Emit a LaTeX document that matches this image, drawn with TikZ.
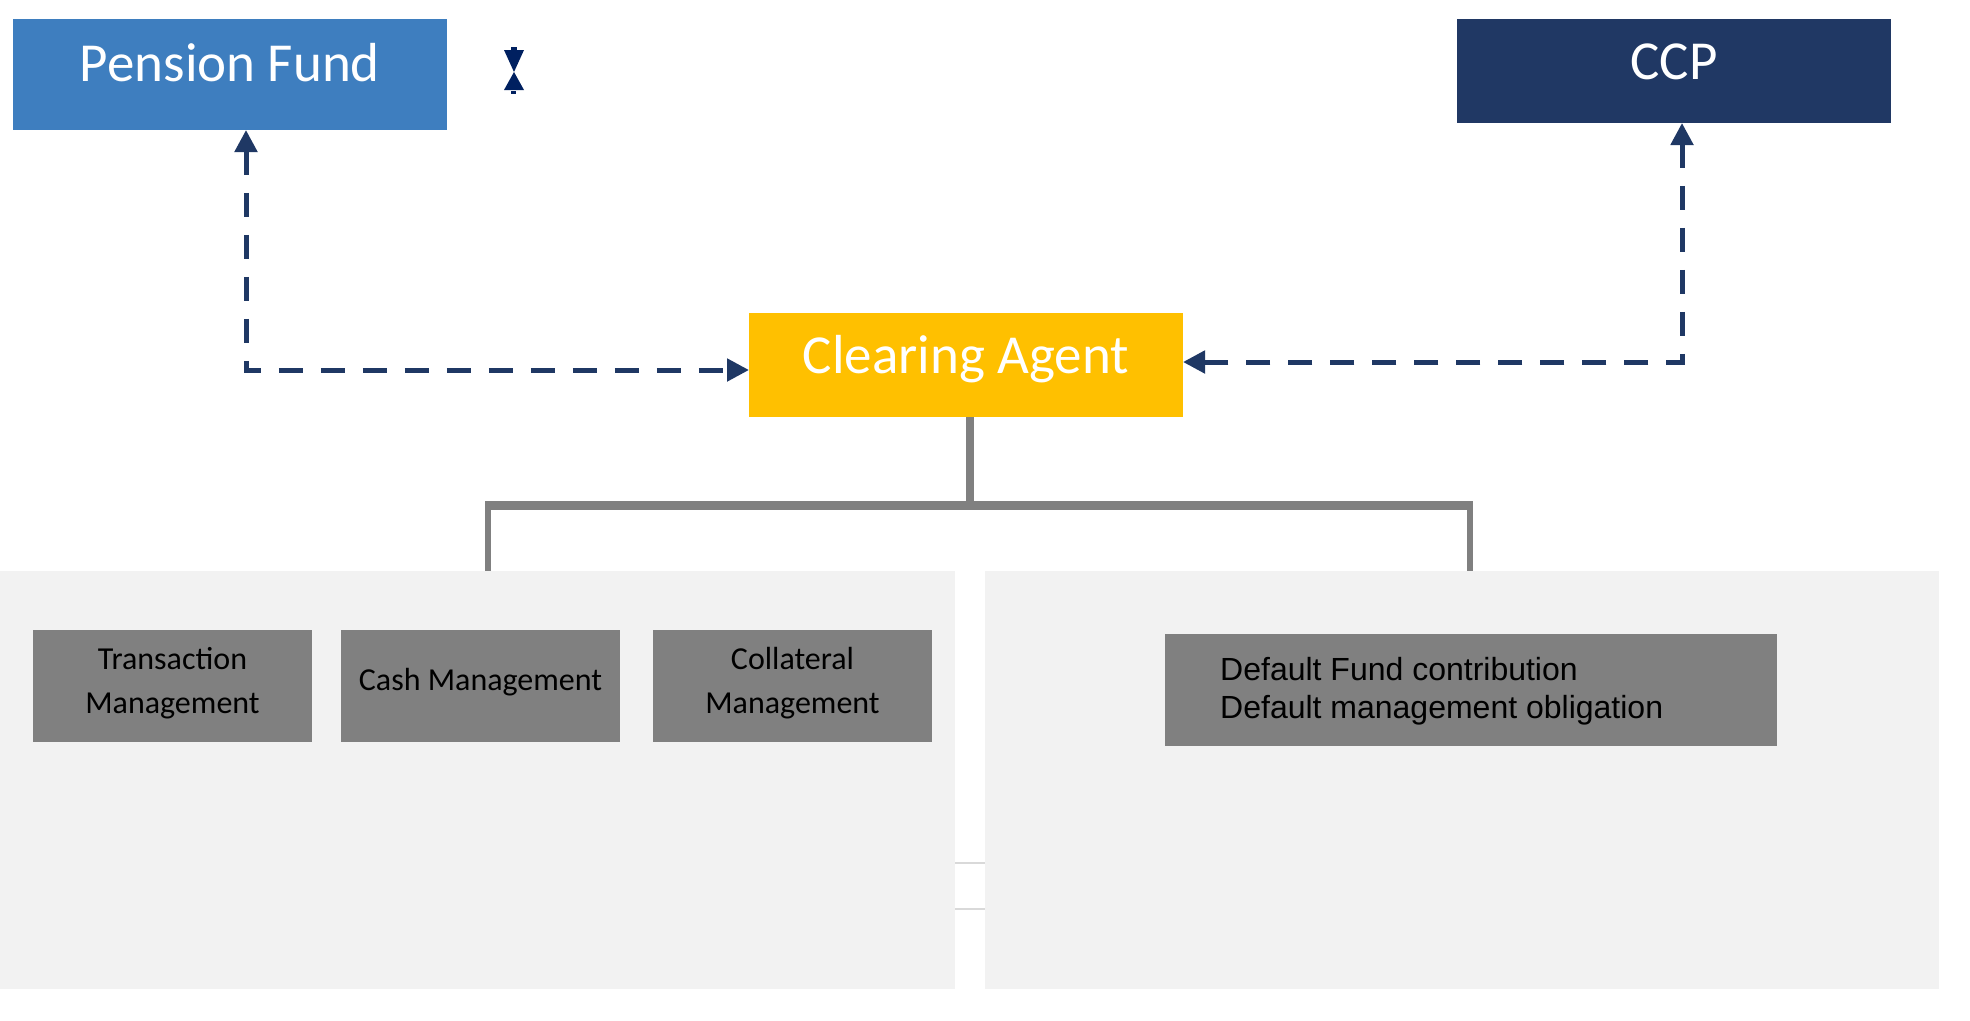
\documentclass[tikz,border=0pt]{standalone}
\usepackage{fontspec}
\setmainfont{Carlito}
\newfontfamily\arialf{Liberation Sans}
\usetikzlibrary{arrows.meta}
\definecolor{pfblue}{HTML}{3E7EBF}
\definecolor{ccpnavy}{HTML}{203864}
\definecolor{caorange}{HTML}{FFC000}
\definecolor{arrnavy}{HTML}{1F3864}
\definecolor{hgnavy}{HTML}{002060}
\definecolor{boxgray}{HTML}{808080}
\definecolor{panelgray}{HTML}{F2F2F2}
\definecolor{sepgray}{HTML}{D9D9D9}
\begin{document}
\begin{tikzpicture}[x=1pt,y=-1pt,
  box/.style={draw=none, inner sep=0pt, outer sep=0pt, anchor=north west},
  titletext/.style={text=white, font=\fontsize{55}{66}\selectfont, anchor=base, inner sep=0pt},
  smalltext/.style={text=black, font=\fontsize{32}{44}\selectfont, anchor=base, inner sep=0pt},
  link/.style={draw=arrnavy, line width=5pt, dash pattern=on 24pt off 18pt,
    {Triangle[length=22pt,width=22pt]}-{Triangle[length=22pt,width=22pt]}},
  tree/.style={draw=boxgray, line width=6pt}]
\useasboundingbox (0,0) rectangle (1970,1020);
\fill[white] (0,0) rectangle (1970,1020);

% top boxes
\node[box, fill=pfblue, minimum width=434pt, minimum height=111pt] (pf) at (13,19) {};
\node[box, fill=ccpnavy, minimum width=434pt, minimum height=104pt] (ccp) at (1457,19) {};
\node[box, fill=caorange, minimum width=434pt, minimum height=104pt] (ca) at (749,313) {};
\node[titletext] (pft) at (230,81) {Pension Fund};
\node[titletext] (ccpt) at (1674,79) {CCP};
\node[titletext] (cat) at (966,373) {Clearing Agent};

% hourglass mark
\fill[hgnavy] (504,50) -- (524,50) -- (514,72) -- cycle;
\fill[hgnavy] (514,72) -- (504,90) -- (524,90) -- cycle;
\fill[hgnavy] (511,47) rectangle (517,50);
\fill[hgnavy] (511,91) rectangle (516,94);

% panels
\node[box, fill=panelgray, minimum width=955pt, minimum height=418pt] (lp) at (0,571) {};
\node[box, fill=panelgray, minimum width=954pt, minimum height=418pt] (rp) at (985,571) {};
\draw[sepgray, line width=2pt] (lp.east |- 0,863) -- (rp.west |- 0,863);
\draw[sepgray, line width=2pt] (lp.east |- 0,909) -- (rp.west |- 0,909);

% inner boxes
\node[box, fill=boxgray, minimum width=279pt, minimum height=112pt] (tm) at (33,630) {};
\node[box, fill=boxgray, minimum width=279pt, minimum height=112pt] (cm) at (341,630) {};
\node[box, fill=boxgray, minimum width=279pt, minimum height=112pt] (colm) at (653,630) {};
\node[box, fill=boxgray, minimum width=612pt, minimum height=112pt] (df) at (1165,634) {};
\node[smalltext] (tmt) at (172.5,669) {\begin{tabular}[t]{@{}c@{}}Transaction\\Management\end{tabular}};
\node[smalltext] (cmt) at (480.5,690) {Cash Management};
\node[smalltext] (colmt) at (792.5,669) {\begin{tabular}[t]{@{}c@{}}Collateral\\Management\end{tabular}};
\node[smalltext, anchor=base west, font=\arialf\fontsize{32}{38}\selectfont] (dft) at (1220,680)
  {\begin{tabular}[t]{@{}l@{}}Default Fund contribution\\Default management obligation\end{tabular}};

% dashed links
\draw[link] (246,0 |- pf.south) |- (ca.west |- 0,370);
\draw[link] (1682,0 |- ccp.south) |- (ca.east |- 0,362);

% tree
\coordinate (hub) at (970,505);
\coordinate (barL) at (485,505);
\coordinate (barR) at (1473,505);
\draw[tree, line width=8pt] (970,0 |- ca.south) -- (hub);
\draw[tree, line width=9pt] (barL) -- (barR);
\draw[tree] (488,505) -- (488,0 |- lp.north);
\draw[tree] (1470,505) -- (1470,0 |- rp.north);
\end{tikzpicture}
\end{document}
